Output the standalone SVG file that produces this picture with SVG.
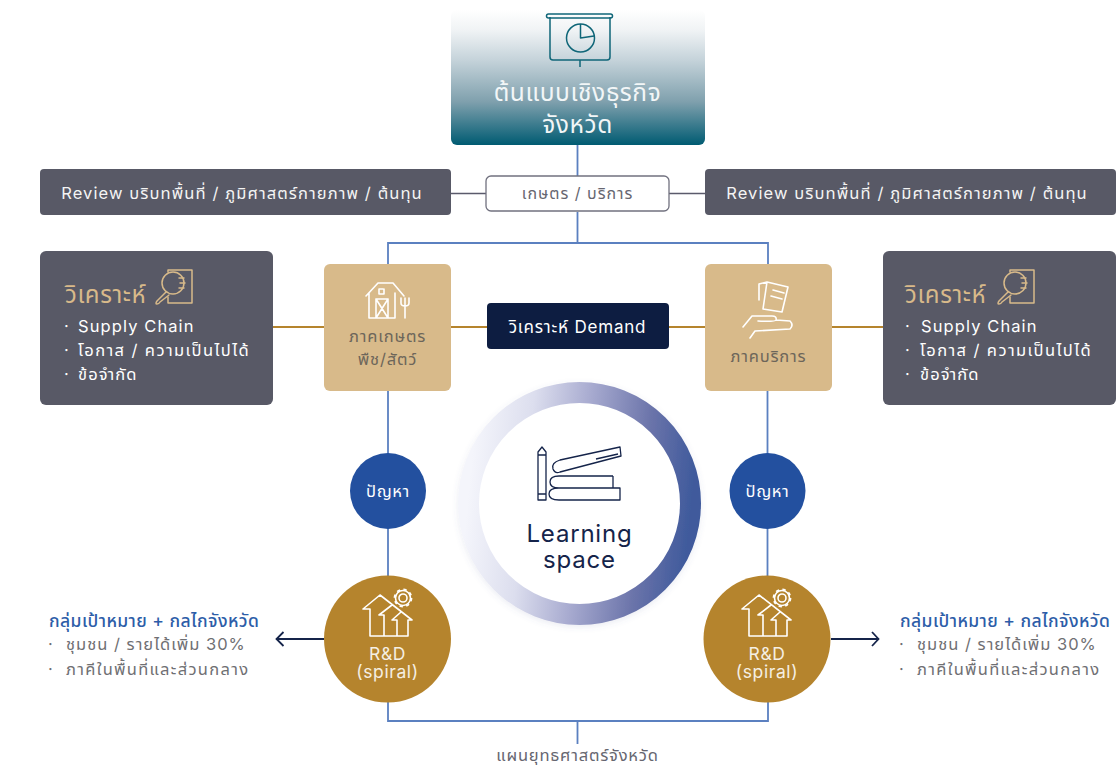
<svg xmlns="http://www.w3.org/2000/svg" width="1118" height="765" viewBox="0 0 1118 765">
<style>
text{font-family:"Inter","Noto Sans","Noto Sans Thai","DejaVu Sans",sans-serif;text-anchor:middle}
.st{text-anchor:start}
.blue{fill:none;stroke:#5b80c0;stroke-width:1.8}
.gold{fill:none;stroke:#b5842d;stroke-width:1.8}
.gray{fill:none;stroke:#5a5a6b;stroke-width:1.3}
.navy{fill:none;stroke:#15244a;stroke-width:1.8}
.dark{fill:#585966}
.tan{fill:#d8ba8a}
.wi{fill:none;stroke:#fff;stroke-width:1.6;stroke-linejoin:round;stroke-linecap:round}
.gi{fill:none;stroke:#d8ba8a;stroke-width:1.5;stroke-linejoin:round;stroke-linecap:round}
.ti{fill:none;stroke:#0f6678;stroke-width:1.5;stroke-linejoin:round}
.ni{fill:none;stroke:#15244a;stroke-width:1.3;stroke-linejoin:round}
.w15{font-size:16.5px;fill:#fff;letter-spacing:1.1px}
.wl{letter-spacing:1.4px}
.t15{font-size:16.5px;fill:#f4f4f4;letter-spacing:1.1px}
.tl{font-size:16.5px;fill:#6d665a;letter-spacing:.8px}
.h{font-size:17.5px;fill:#2d5da8;font-weight:500;letter-spacing:.42px}
.g{font-size:16.5px;fill:#6f6f73;letter-spacing:1px}
.gl{letter-spacing:1.3px}
.rdt{font-size:17.5px;fill:#f5efe3;letter-spacing:.6px}
.ana{font-size:24px;fill:#d8ba8a;letter-spacing:.6px}
.pb{font-size:16.5px;fill:#fff;letter-spacing:.6px}
</style>
<defs>
<linearGradient id="head" x1="0" y1="0" x2="0" y2="1"><stop offset="0" stop-color="#fff"/><stop offset=".15" stop-color="#f0f3f5"/><stop offset=".37" stop-color="#c5d3da"/><stop offset=".68" stop-color="#7fa0ad"/><stop offset="1" stop-color="#005b72"/></linearGradient>
<linearGradient id="ring" x1="0" y1=".45" x2="1" y2=".55"><stop offset="0" stop-color="#f4f5fb"/><stop offset=".25" stop-color="#dcdeee"/><stop offset=".5" stop-color="#a8abd0"/><stop offset=".78" stop-color="#6b74aa"/><stop offset="1" stop-color="#3f5a9c"/></linearGradient>
<filter id="sh" x="-10%" y="-10%" width="120%" height="120%"><feDropShadow dx="0" dy="2" stdDeviation="3" flood-color="#5a6a9c" flood-opacity=".12"/></filter>
<g id="scope"><path class="gi" d="M16 2H40V35H16V29M16 2V4"/><circle class="gi" cx="21" cy="15" r="11"/><path class="gi" d="M32 10H27M33 15H28M32 20H27M14 24L5 33Q3 36 5 36 7 36 8 34L17 27"/></g>
<g id="rd"><path class="wi" d="M0 14L17 0 49 25H45V41H7V14H0M16 20L29 10M16 20H21V41M29 25L38 17M29 25H34V41"/><circle class="wi" cx="40" cy="3" r="4" stroke-width="1.300"/><circle class="wi" cx="40" cy="3" r="7.500" stroke-width="1.300"/><circle cx="40" cy="3" r="8.500" fill="none" stroke="#fff" stroke-width="1.800" stroke-dasharray="3.300 3.400"/></g>
</defs>
<g id="connectors">
<path class="blue" d="M577.500 145V176M577.500 212V243M388 264V243H768V264M388 391V579M767.500 391V579M388 702V721H768V702M577.500 721V744"/>
<path class="gray" d="M451 193.500H486M669 193.500H705"/>
<path class="gold" d="M273 327H324M451 327H487M669 327H705M832 327H884"/>
<path class="navy" d="M324 639H277M283.500 632L276.500 639 283.500 646M831 639H878M872 632L878.500 639 872 646"/>
</g>
<g id="head"><rect x="451" y="10" width="254" height="135" rx="6" fill="url(#head)"/>
<path class="ti" d="M550 17V57Q550 60 553 60H607Q610 60 610 57V17M580 60V67"/><rect class="ti" x="546.500" y="14" width="66" height="4" rx="2"/><circle class="ti" cx="580.500" cy="38" r="14"/><path class="ti" d="M580.500 24V38L594 36"/>
<text x="577.500" y="101" font-size="24.500" fill="#f2f6f7" letter-spacing=".6">ต้นแบบเชิงธุรกิจ</text><text x="577.500" y="133" font-size="24.500" fill="#f2f6f7" letter-spacing=".6">จังหวัด</text></g>
<g id="rev-l"><rect class="dark" x="40" y="169" width="411" height="46" rx="4"/><text class="t15" x="242" y="199">Review บริบทพื้นที่ / ภูมิศาสตร์กายภาพ / ต้นทุน</text></g>
<g id="agri-service"><rect x="486" y="176" width="183" height="35" rx="5" fill="#fff" stroke="#71717f" stroke-width="1.300"/><text x="577.500" y="199" font-size="16" fill="#666670" letter-spacing="1">เกษตร / บริการ</text></g>
<g id="rev-r"><rect class="dark" x="705" y="169" width="411" height="46" rx="4"/><text class="t15" x="907" y="199">Review บริบทพื้นที่ / ภูมิศาสตร์กายภาพ / ต้นทุน</text></g>
<g id="ana-l"><rect class="dark" x="40" y="251" width="233" height="154" rx="6"/><text class="st ana" x="65" y="303">วิเคราะห์</text><use href="#scope" x="152" y="268"/>
<text class="st w15" x="64" y="332">·</text><text class="st w15" x="78" y="332">Supply Chain</text><text class="st w15" x="64" y="356">·</text><text class="st w15 wl" x="78" y="356">โอกาส / ความเป็นไปได้</text><text class="st w15" x="64" y="380">·</text><text class="st w15" x="78" y="380">ข้อจำกัด</text></g>
<g id="farm"><rect class="tan" x="324" y="264" width="127" height="127" rx="6"/>
<path class="wi" d="M366 296L378 283H393L404 296M369 293V318H395V293M376 318V299H388V318M376 299L388 318M388 299L376 318M383 289h-4v5h5v-5M405 298V318M401 298V303Q401 306 405 306 409 306 409 303V298"/>
<text class="tl" x="387.500" y="342">ภาคเกษตร</text><text class="tl" x="387.500" y="365">พืช/สัตว์</text></g>
<g id="demand"><rect x="487" y="303" width="182" height="46" rx="4" fill="#0d1d41"/><text x="577.500" y="333" font-size="17" fill="#fff" letter-spacing=".8">วิเคราะห์ Demand</text></g>
<g id="service"><rect class="tan" x="705" y="264" width="127" height="127" rx="6"/>
<path class="wi" d="M767 282L788 287 782 312 763 309ZM767 282L759 284V300M773 290L784 293M771 296L782 299M743 327L752 316H772Q777 316 776 320 775 322 758 321M776 320L790 321Q794 325 790 329L755 331 750 338"/>
<text class="tl" x="768.500" y="362">ภาคบริการ</text></g>
<g id="ana-r"><rect class="dark" x="883" y="251" width="233" height="154" rx="6"/><text class="st ana" x="905" y="303">วิเคราะห์</text><use href="#scope" x="994" y="268"/>
<text class="st w15" x="905" y="332">·</text><text class="st w15" x="921" y="332">Supply Chain</text><text class="st w15" x="905" y="356">·</text><text class="st w15 wl" x="920" y="356">โอกาส / ความเป็นไปได้</text><text class="st w15" x="905" y="380">·</text><text class="st w15" x="920" y="380">ข้อจำกัด</text></g>
<g id="prob-l"><circle cx="388" cy="491" r="38" fill="#23509f"/><text class="pb" x="388" y="497">ปัญหา</text></g>
<g id="prob-r"><circle cx="767.500" cy="491" r="38" fill="#23509f"/><text class="pb" x="767.500" y="497">ปัญหา</text></g>
<g id="learning"><circle cx="579.500" cy="503.500" r="111" fill="#fff" stroke="url(#ring)" stroke-width="21" filter="url(#sh)"/>
<path class="ni" d="M538 500V452L542 447 546 452V500ZM538 455H546M538 494H546"/><path class="ni" d="M620 447L560 460Q551 463 553 469 555 474 560 472L621 456ZM596 459L618 454M613 476H559Q550 476 550 482 550 488 559 488H620V500H559Q549 500 549 494 549 488 559 488M613 476V488"/>
<text font-size="24" fill="#15244a" letter-spacing=".8"><tspan x="579.500" y="542">Learning</tspan><tspan x="579.500" y="568">space</tspan></text></g>
<g id="rd-l"><circle cx="387.500" cy="639" r="63.500" fill="#b5842d"/><use href="#rd" x="363" y="595"/><text class="rdt"><tspan x="387.500" y="660">R&amp;D</tspan><tspan x="387.500" y="678">(spiral)</tspan></text></g>
<g id="rd-r"><circle cx="767" cy="639" r="63.500" fill="#b5842d"/><use href="#rd" x="742" y="595"/><text class="rdt"><tspan x="767" y="660">R&amp;D</tspan><tspan x="767" y="678">(spiral)</tspan></text></g>
<g id="target-l"><text class="st h" x="49" y="627">กลุ่มเป้าหมาย + กลไกจังหวัด</text><text class="st g" x="48" y="650">·</text><text class="st g" x="66" y="650">ชุมชน / รายได้เพิ่ม 30%</text><text class="st g" x="48" y="675">·</text><text class="st g gl" x="66" y="675">ภาคีในพื้นที่และส่วนกลาง</text></g>
<g id="target-r"><text class="st h" x="900" y="627">กลุ่มเป้าหมาย + กลไกจังหวัด</text><text class="st g" x="899" y="650">·</text><text class="st g" x="917" y="650">ชุมชน / รายได้เพิ่ม 30%</text><text class="st g" x="899" y="675">·</text><text class="st g gl" x="917" y="675">ภาคีในพื้นที่และส่วนกลาง</text></g>
<g id="plan"><text x="577.500" y="761" font-size="16.500" fill="#666670" letter-spacing=".8">แผนยุทธศาสตร์จังหวัด</text></g>
</svg>
